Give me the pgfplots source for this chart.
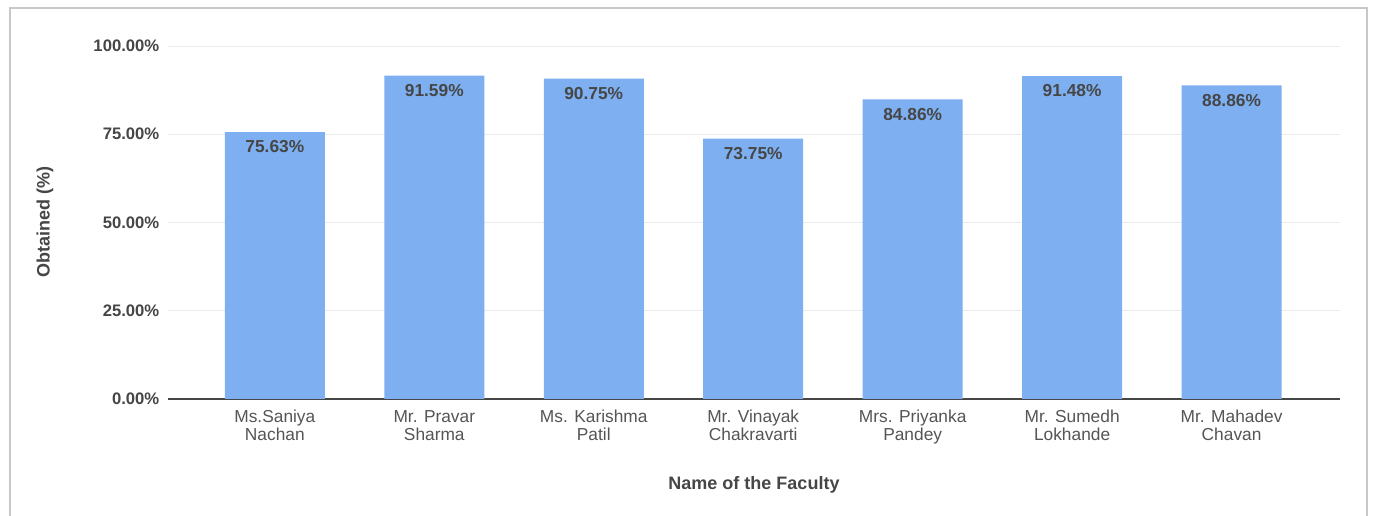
\documentclass[border=0pt]{standalone}
\usepackage{pgfplots}
\pgfplotsset{compat=1.18}
\usepackage{fontspec}
\setmainfont{Liberation Sans}
\definecolor{barblue}{RGB}{126,176,241}
\definecolor{tickgray}{RGB}{70,70,70}
\definecolor{catgray}{RGB}{85,85,85}
\definecolor{gridgray}{RGB}{235,235,235}
\definecolor{framegray}{RGB}{200,200,200}
\begin{document}
\begin{tikzpicture}
\path[use as bounding box, fill=white] (0,0) rectangle (1030.5pt,387pt);
\draw[framegray, line width=0.9pt] (7.5pt,-2pt) -- (7.5pt,381pt) -- (1025.25pt,381pt) -- (1025.25pt,-2pt);
\begin{axis}[
  at={(126pt,87.75pt)}, anchor=south west,
  scale only axis, width=879pt, height=264.75pt,
  xmin=-0.67, xmax=6.68, ymin=0, ymax=100,
  axis lines*=left,
  y axis line style={draw=none},
  x axis line style={draw=tickgray, line width=0.8pt},
  ytick={0,25,50,75,100},
  xtick={0,1,2,3,4,5,6},
  major tick length=0pt,
  ymajorgrids, grid style={gridgray, line width=0.6pt},
  /pgf/number format/assume math mode=true,
  yticklabel={\pgfmathprintnumber[fixed,fixed zerofill,precision=2]{\tick}\%},
  yticklabel style={font=\fontsize{12.5}{14}\selectfont\bfseries, text=tickgray, xshift=-3pt},
  xticklabels={{Ms.Saniya\\Nachan},{Mr. Pravar\\Sharma},{Ms. Karishma\\Patil},{Mr. Vinayak\\Chakravarti},{Mrs. Priyanka\\Pandey},{Mr. Sumedh\\Lokhande},{Mr. Mahadev\\Chavan}},
  xticklabel style={font=\fontsize{13}{13.5}\selectfont, text=catgray, align=center, anchor=north, yshift=-5pt},
  xlabel={Name of the Faculty},
  ylabel={Obtained (\%)},
  every axis x label/.style={at={(axis description cs:0.5,-0.2436)}, anchor=center, font=\fontsize{13.5}{15}\selectfont\bfseries, text=tickgray},
  every axis y label/.style={at={(axis description cs:-0.105,0.5)}, rotate=90, anchor=center, font=\fontsize{13.5}{15}\selectfont\bfseries, text=tickgray},
  ybar, bar width=75pt,
  nodes near coords={\pgfmathprintnumber[fixed,fixed zerofill,precision=2]{\pgfplotspointmeta}\%},
  every node near coord/.append style={anchor=north, yshift=-3pt, font=\fontsize{13}{14}\selectfont\bfseries, text=tickgray, /pgf/number format/assume math mode=true},
]
\addplot[fill=barblue, draw=none] coordinates {(0,75.63) (1,91.59) (2,90.75) (3,73.75) (4,84.86) (5,91.48) (6,88.86)};
\end{axis}
\end{tikzpicture}
\end{document}
